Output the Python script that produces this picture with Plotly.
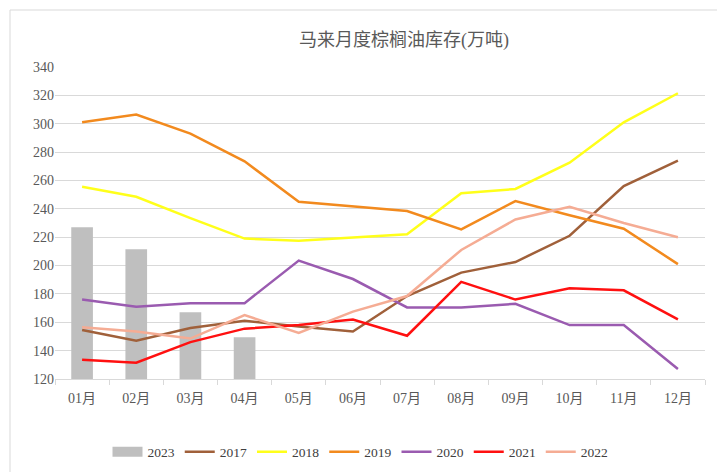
import plotly.graph_objects as go

# 马来月度棕榈油库存（万吨）
meses = ["01月", "02月", "03月", "04月", "05月", "06月", "07月", "08月", "09月", "10月", "11月", "12月"]

y2023 = [227, 211.5, 167, 149.5]
y2017 = [154.5, 147, 156, 161, 157, 153.5, 178.5, 195, 202.5, 221, 256, 274]
y2018 = [255.5, 248.5, 233.5, 219, 217.5, 219.5, 222, 251, 254, 272.5, 301, 321.5]
y2019 = [301, 306.5, 293, 273.5, 245, 241.5, 238.5, 225.5, 245.5, 235.5, 226, 201]
y2020 = [176, 171, 173.5, 173.5, 203.5, 190.5, 170.5, 170.5, 173, 158, 158, 127]
y2021 = [133.5, 131.5, 146, 155.5, 158, 162, 150.5, 188.5, 176, 184, 182.5, 162]
y2022 = [156.5, 153.5, 148.5, 165, 152.5, 167.5, 178.5, 211, 232.5, 241.5, 230, 220]

lineas = [
    ("2017", y2017, "#A0603A"),
    ("2018", y2018, "#FFFF1A"),
    ("2019", y2019, "#F28A1E"),
    ("2020", y2020, "#9A5BB0"),
    ("2021", y2021, "#FF1010"),
    ("2022", y2022, "#F5AC94"),
]

fuente = "Liberation Serif, Noto Sans CJK SC, serif"

fig = go.Figure()
fig.add_trace(go.Bar(x=meses[:len(y2023)], y=y2023, name="2023", showlegend=False,
                     marker=dict(color="#BFBFBF", line=dict(width=0))))
# entrada de leyenda para las barras (rectángulo ancho como en el original)
fig.add_trace(go.Scatter(x=[None], y=[None], name="2023", mode="lines",
                         line=dict(color="#BFBFBF", width=10)))
for nombre, valores, color in lineas:
    fig.add_trace(go.Scatter(x=meses, y=valores, name=nombre, mode="lines",
                             line=dict(color=color, width=2.5)))

fig.update_layout(
    width=717, height=472,
    paper_bgcolor="white", plot_bgcolor="white",
    margin=dict(l=55, r=12, t=67, b=93, autoexpand=False),
    font=dict(family=fuente, size=14, color="#595959"),
    title=dict(text="马来月度棕榈油库存(万吨)", x=404 / 717, xanchor="center",
               y=1 - 40 / 472, yanchor="middle",
               font=dict(size=18, color="#595959", family=fuente)),
    bargap=0.6,
    showlegend=True,
    legend=dict(orientation="h", x=0.47, xanchor="center", y=-0.234, yanchor="middle",
                font=dict(size=13.5, color="#404040"), itemwidth=30, tracegroupgap=0),
    shapes=[dict(type="rect", xref="paper", yref="paper",
                 x0=-45 / 650, x1=1.2, y0=-0.5, y1=1 + 57 / 312,
                 line=dict(color="#D9D9D9", width=1), layer="below")],
)
fig.update_xaxes(type="category", range=[-0.5, 11.5], showline=True,
                 linecolor="#D9D9D9", linewidth=1, automargin=False,
                 ticks="outside", tickson="boundaries", ticklen=5, tickcolor="#D9D9D9",
                 ticklabelstandoff=6,
                 showgrid=False, tickfont=dict(size=14, color="#595959"))
fig.update_yaxes(range=[120, 340], dtick=20, showgrid=True, gridcolor="#D9D9D9",
                 gridwidth=1, zeroline=False, showline=False, ticks="", automargin=False,
                 tickfont=dict(size=14, color="#595959"))

fig.write_html("out.html", config={"displayModeBar": False},
               post_script="document.body.style.margin='0';")
